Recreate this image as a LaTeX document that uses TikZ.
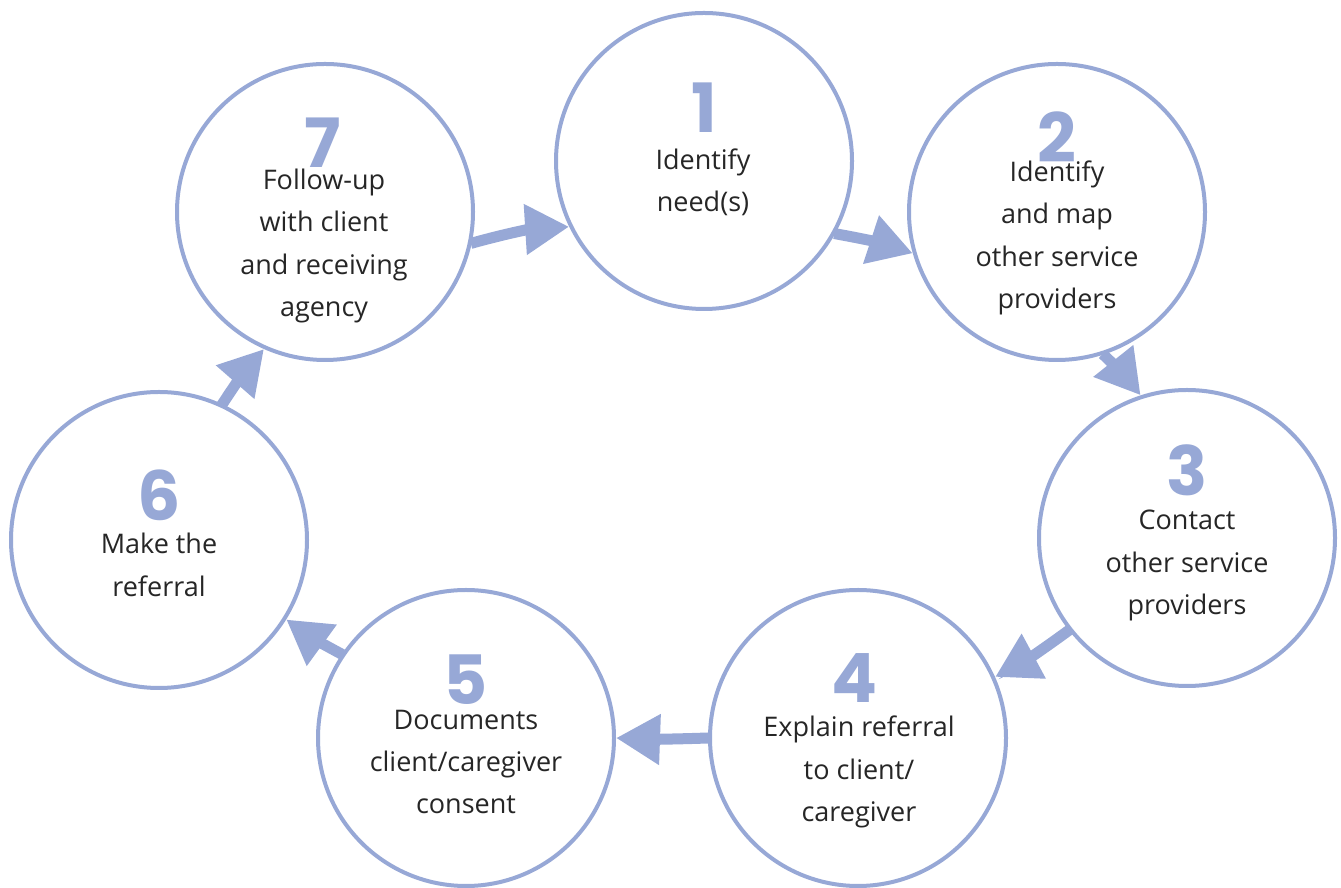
\documentclass[tikz,border=0pt]{standalone}
\usepackage{fontspec}
\setmainfont{Open Sans}
\newfontfamily\numfont{Poppins}
\usetikzlibrary{arrows.meta}
\definecolor{ring}{HTML}{97A8D6}
\definecolor{txt}{HTML}{262626}
\begin{document}
\begin{tikzpicture}[x=1pt,y=1pt,
  stepcircle/.style={circle,draw=ring,line width=4pt,minimum size=296pt,inner sep=0pt,fill=white},
  stepnum/.style={font=\numfont\bfseries\fontsize{68}{68}\selectfont,text=ring,inner sep=0pt},
  steptext/.style={font=\fontsize{27}{42.3}\selectfont,text=txt,align=center,inner sep=0pt},
  flow/.style={draw=ring,line width=11pt,-{Triangle[length=44pt,width=48pt]},shorten <=-1pt}]
\useasboundingbox (0,0) rectangle (1341,888);
\node[stepcircle] (c1) at (704,727) {};
\node[stepcircle] (c2) at (1057,676) {};
\node[stepcircle] (c3) at (1187,350) {};
\node[stepcircle] (c4) at (858,150) {};
\node[stepcircle] (c5) at (466,150) {};
\node[stepcircle] (c6) at (159,348) {};
\node[stepcircle] (c7) at (325,676) {};
\node[stepnum] (n1) at (704,780) {1};
\node[stepnum] (n2) at (1057,751) {2};
\node[stepnum] (n3) at (1187,418) {3};
\node[stepnum] (n4) at (855,210) {4};
\node[stepnum] (n5) at (466,208) {5};
\node[stepnum] (n6) at (159,393) {6};
\node[stepnum] (n7) at (323,745) {7};
\node[steptext] (t1) at (703,706) {Identify\\need(s)};
\node[steptext] (t2) at (1057,650) {Identify\\and map\\other service\\providers};
\node[steptext] (t3) at (1187,322.5) {Contact\\other service\\providers};
\node[steptext] (t4) at (859,116) {Explain referral\\to client/\\caregiver};
\node[steptext] (t5) at (466,126) {Documents\\client/caregiver\\consent};
\node[steptext] (t6) at (159,323) {Make the\\referral};
\node[steptext] (t7) at (324,642) {Follow-up\\with client\\and receiving\\agency};
\draw[flow] (c7.-12.6) to[bend left=6] (c1.206.6);
\draw[flow] (c1.-29.8) to[bend left=4] (c2.196.8);
\draw[flow] (c2.-72.2) to[bend left=4] (c3.108);
\draw[flow] (c3.218.7) to[bend left=4] (c4.24);
\draw[flow] (c4.180) to[bend left=2] (c5.0);
\draw[flow] (c5.146) to[bend left=4] (c6.-32.8);
\draw[flow] (c6.65.7) to[bend left=4] (c7.246.8);
\end{tikzpicture}
\end{document}
